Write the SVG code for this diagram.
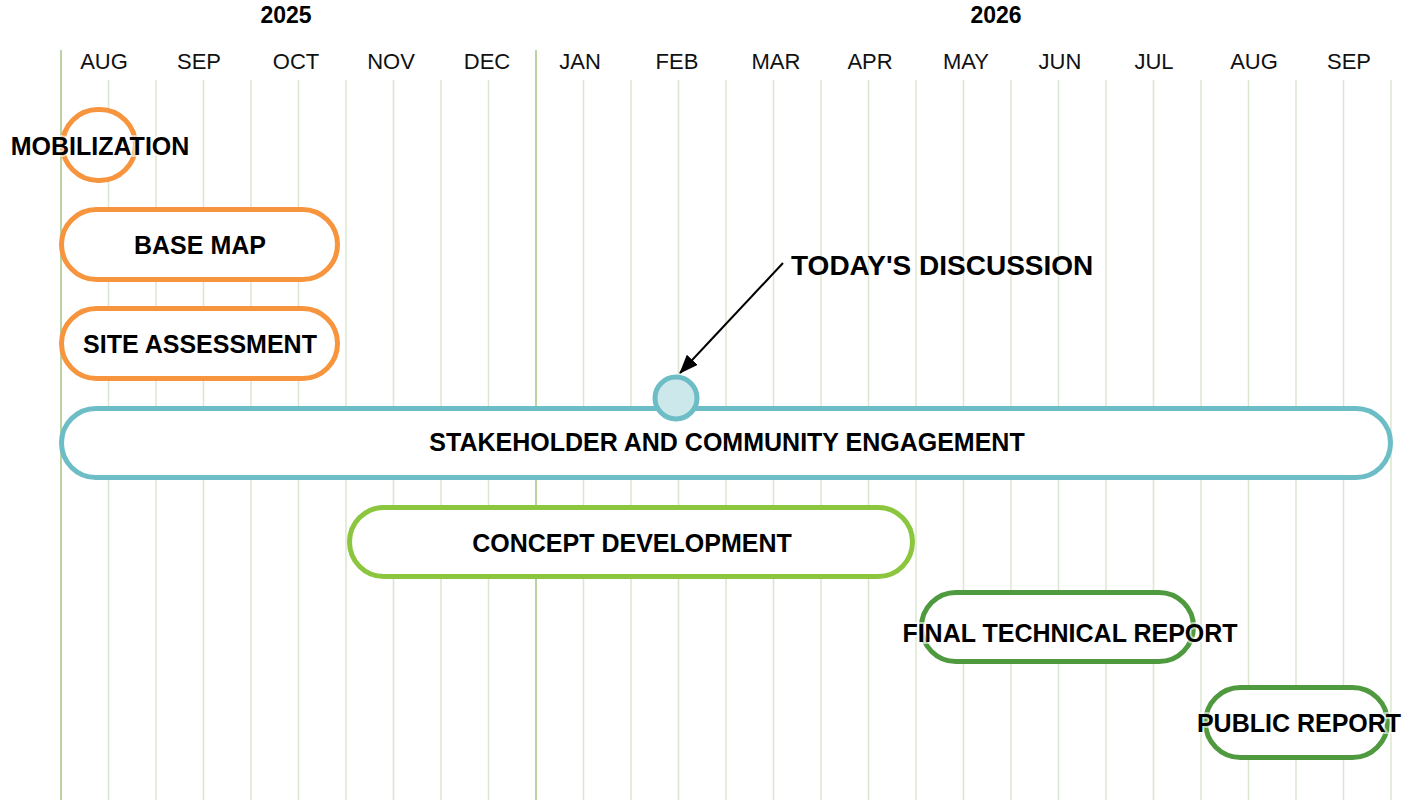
<svg xmlns="http://www.w3.org/2000/svg" width="1406" height="800" viewBox="0 0 1406 800">
<defs>
<style>
.grid{stroke:#dbe6d0;stroke-width:1.5}
.major{stroke:#b9d3a4;stroke-width:2}
.yr{font-family:"Liberation Sans",Arial,sans-serif;font-weight:bold;font-size:23px;fill:#000;text-anchor:middle}
.mo{font-family:"Liberation Sans",Arial,sans-serif;font-size:22px;fill:#111;text-anchor:middle}
.bar{fill:#fff;stroke-width:5}
.lbl{font-family:"Liberation Sans",Arial,sans-serif;font-weight:bold;font-size:25px;fill:#000;text-anchor:middle;paint-order:stroke;stroke:#fff;stroke-opacity:0.6;stroke-width:4}
.orange{stroke:#f7953f}
.teal{stroke:#6cbdc5}
.lgreen{stroke:#8cc63f}
.dgreen{stroke:#4f9a3f}
</style>
<marker id="ah" viewBox="0 0 19 15" refX="18" refY="7.5" markerWidth="19" markerHeight="15" markerUnits="userSpaceOnUse" orient="auto"><path d="M0,0 L19,7.5 L0,15 z" fill="#000"/></marker>
</defs>
<rect width="1406" height="800" fill="#fff"/>
<g id="grid">
<line class="major" x1="61" y1="50" x2="61" y2="800"/>
<line class="grid" x1="108.5" y1="80" x2="108.5" y2="800"/>
<line class="grid" x1="156" y1="80" x2="156" y2="800"/>
<line class="grid" x1="203.5" y1="80" x2="203.5" y2="800"/>
<line class="grid" x1="251" y1="80" x2="251" y2="800"/>
<line class="grid" x1="298.5" y1="80" x2="298.5" y2="800"/>
<line class="grid" x1="346" y1="80" x2="346" y2="800"/>
<line class="grid" x1="393.5" y1="80" x2="393.5" y2="800"/>
<line class="grid" x1="441" y1="80" x2="441" y2="800"/>
<line class="grid" x1="488.5" y1="80" x2="488.5" y2="800"/>
<line class="major" x1="536" y1="50" x2="536" y2="800"/>
<line class="grid" x1="583.5" y1="80" x2="583.5" y2="800"/>
<line class="grid" x1="631" y1="80" x2="631" y2="800"/>
<line class="grid" x1="678.5" y1="80" x2="678.5" y2="800"/>
<line class="grid" x1="726" y1="80" x2="726" y2="800"/>
<line class="grid" x1="773.5" y1="80" x2="773.5" y2="800"/>
<line class="grid" x1="821" y1="80" x2="821" y2="800"/>
<line class="grid" x1="868.5" y1="80" x2="868.5" y2="800"/>
<line class="grid" x1="916" y1="80" x2="916" y2="800"/>
<line class="grid" x1="963.5" y1="80" x2="963.5" y2="800"/>
<line class="grid" x1="1011" y1="80" x2="1011" y2="800"/>
<line class="grid" x1="1058.5" y1="80" x2="1058.5" y2="800"/>
<line class="grid" x1="1106" y1="80" x2="1106" y2="800"/>
<line class="grid" x1="1153.5" y1="80" x2="1153.5" y2="800"/>
<line class="grid" x1="1201" y1="80" x2="1201" y2="800"/>
<line class="grid" x1="1248.5" y1="80" x2="1248.5" y2="800"/>
<line class="grid" x1="1296" y1="80" x2="1296" y2="800"/>
<line class="grid" x1="1343.5" y1="80" x2="1343.5" y2="800"/>
<line class="grid" x1="1391" y1="80" x2="1391" y2="800"/>
</g>
<g id="header">
<text class="yr" x="286" y="23">2025</text>
<text class="yr" x="996" y="23">2026</text>
<text class="mo" x="104" y="69">AUG</text>
<text class="mo" x="199" y="69">SEP</text>
<text class="mo" x="296" y="69">OCT</text>
<text class="mo" x="391" y="69">NOV</text>
<text class="mo" x="487" y="69">DEC</text>
<text class="mo" x="580" y="69">JAN</text>
<text class="mo" x="677" y="69">FEB</text>
<text class="mo" x="776" y="69">MAR</text>
<text class="mo" x="870" y="69">APR</text>
<text class="mo" x="966" y="69">MAY</text>
<text class="mo" x="1060" y="69">JUN</text>
<text class="mo" x="1154" y="69">JUL</text>
<text class="mo" x="1254" y="69">AUG</text>
<text class="mo" x="1349" y="69">SEP</text>
</g>
<g id="mobilization">
<rect class="bar orange" x="62.5" y="109.5" width="73" height="71" rx="35.5"/>
<text class="lbl" x="100" y="155">MOBILIZATION</text>
</g>
<g id="base-map">
<rect class="bar orange" x="61.5" y="209.5" width="276" height="70" rx="35"/>
<text class="lbl" x="200" y="254">BASE MAP</text>
</g>
<g id="site-assessment">
<rect class="bar orange" x="61.5" y="308.5" width="276" height="70" rx="35"/>
<text class="lbl" x="200" y="353">SITE ASSESSMENT</text>
</g>
<g id="stakeholder">
<rect class="bar teal" x="61.5" y="408.5" width="1329" height="69" rx="34.5"/>
<text class="lbl" x="727" y="451">STAKEHOLDER AND COMMUNITY ENGAGEMENT</text>
</g>
<g id="today-marker">
<circle cx="676" cy="398" r="21" fill="#cce8ea" stroke="#6cbdc5" stroke-width="5"/>
</g>
<g id="connectors">
<line x1="783" y1="263" x2="680" y2="373" stroke="#000" stroke-width="2" marker-end="url(#ah)"/>
</g>
<g id="todays-discussion">
<text x="791" y="275" font-family="'Liberation Sans',Arial,sans-serif" font-weight="bold" font-size="28" fill="#000">TODAY'S DISCUSSION</text>
</g>
<g id="concept-development">
<rect class="bar lgreen" x="349.5" y="507.5" width="563" height="69" rx="34.5"/>
<text class="lbl" x="632" y="552">CONCEPT DEVELOPMENT</text>
</g>
<g id="final-technical-report">
<rect class="bar dgreen" x="921.5" y="592.5" width="272" height="69" rx="34.5"/>
<text class="lbl" x="1070" y="642">FINAL TECHNICAL REPORT</text>
</g>
<g id="public-report">
<rect class="bar dgreen" x="1205.5" y="687.5" width="182" height="70" rx="35"/>
<text class="lbl" x="1299" y="732">PUBLIC REPORT</text>
</g>
</svg>
